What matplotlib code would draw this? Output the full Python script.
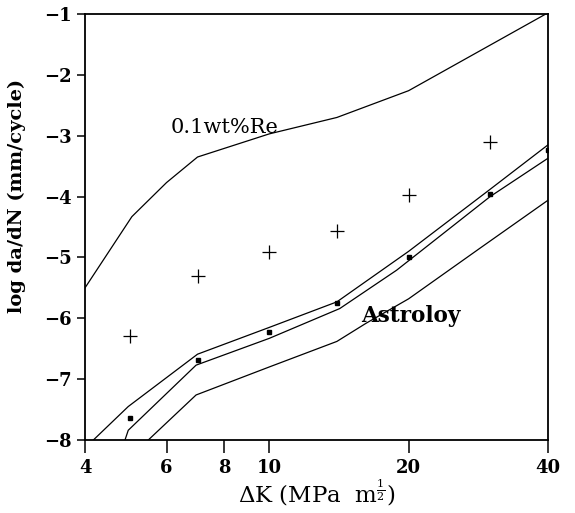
import matplotlib
matplotlib.use("Agg")
import matplotlib.pyplot as plt
from matplotlib.ticker import FixedLocator, FixedFormatter

plt.rcParams['font.family'] = ['DejaVu Serif']
plt.rcParams['mathtext.fontset'] = 'dejavuserif'

# 0.1wt%Re data (plus markers)
re_dk = [5.0, 7.0, 10.0, 14.0, 20.0, 30.0]
re_rate = [-6.29, -5.30, -4.91, -4.57, -3.97, -3.10]

# Astroloy data (square markers)
ast_dk = [5.0, 7.0, 10.0, 14.0, 20.0, 30.0, 40.0]
ast_rate = [-7.64, -6.69, -6.23, -5.75, -4.99, -3.96, -3.23]

# 0.1wt%Re upper curve
re_line_dk = [4.0, 5.05, 6.0, 7.0, 10.0, 14.0, 20.0, 40.0]
re_line_rate = [-5.50, -4.33, -3.77, -3.35, -2.97, -2.70, -2.26, -0.98]

# Astroloy band: upper, middle, lower curves
ast_up_dk = [4.17, 4.96, 7.0, 10.0, 14.0, 20.0, 30.0, 40.0]
ast_up_rate = [-8.0, -7.45, -6.59, -6.15, -5.73, -4.90, -3.88, -3.15]

ast_mid_dk = [4.88, 4.96, 6.95, 10.0, 14.2, 18.84, 30.0, 40.0]
ast_mid_rate = [-8.0, -7.84, -6.77, -6.33, -5.84, -5.21, -4.00, -3.37]

ast_low_dk = [5.48, 6.95, 10.0, 14.0, 16.2, 20.0, 28.5, 40.0]
ast_low_rate = [-8.0, -7.26, -6.80, -6.38, -6.08, -5.68, -4.85, -4.06]

xticks = [4, 6, 8, 10, 20, 40]
xtick_labels = ["4", "6", "8", "10", "20", "40"]
yticks = [-8, -7, -6, -5, -4, -3, -2, -1]

fig = plt.figure(figsize=(5.75, 5.13), dpi=100)
ax = fig.add_axes([85/575, 1-440/513, (548-85)/575, (440-14)/513])

lw = 0.9
for xs, ys in [(re_line_dk, re_line_rate), (ast_up_dk, ast_up_rate),
               (ast_mid_dk, ast_mid_rate), (ast_low_dk, ast_low_rate)]:
    ax.plot(xs, ys, color='black', lw=lw)

ax.plot(re_dk, re_rate, linestyle='none', marker='+', markersize=10,
        markeredgewidth=0.9, color='black')
ax.plot(ast_dk, ast_rate, linestyle='none', marker='s', markersize=3.2,
        color='black')

ax.set_xscale('log')
ax.set_xlim(4, 40)
ax.set_ylim(-8, -1)
ax.xaxis.set_major_locator(FixedLocator(xticks))
ax.xaxis.set_major_formatter(FixedFormatter(xtick_labels))
ax.xaxis.set_minor_locator(FixedLocator([]))
ax.set_yticks(yticks)

ax.tick_params(axis='y', which='major', direction='out', length=6,
               width=1.1, labelsize=13, right=False)
ax.tick_params(axis='x', which='major', direction='out', length=9,
               width=1.1, labelsize=13, top=False, pad=5)
for lab in ax.get_xticklabels() + ax.get_yticklabels():
    lab.set_fontweight('bold')
for s in ax.spines.values():
    s.set_linewidth(1.3)

ax.text(8.0, -2.86, "0.1wt%Re", fontsize=15, ha='center', va='center')
ax.text(20.2, -5.96, "Astroloy", fontsize=15.5, fontweight='bold',
        ha='center', va='center')

ax.set_ylabel("log da/dN (mm/cycle)", fontsize=14, fontweight='bold')
ax.yaxis.set_label_coords(-0.128, 0.573)
ax.set_xlabel(r"$\Delta$K (MPa  m$^{\frac{1}{2}}$)", fontsize=16.5, labelpad=0)

fig.savefig("out.png", dpi=100)
